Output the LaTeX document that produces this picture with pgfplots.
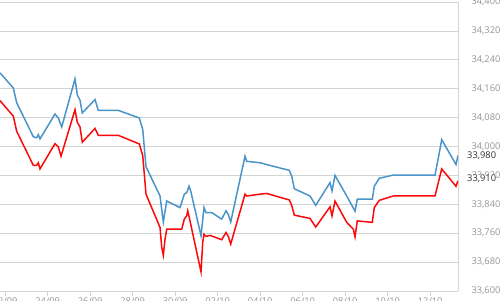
\documentclass[border=0pt]{standalone}
\usepackage{pgfplots}
\pgfplotsset{compat=1.18}
\usetikzlibrary{calc}
\usepackage{fontspec}
\setmainfont{Open Sans}
\definecolor{bluel}{RGB}{74,148,200}
\definecolor{redl}{RGB}{250,10,10}
\definecolor{gridc}{RGB}{212,212,212}
\definecolor{labc}{RGB}{150,150,150}
\definecolor{darklab}{RGB}{51,51,51}
\begin{document}
\begin{tikzpicture}
\begin{axis}[
  scale only axis, width=458pt, height=289pt,
  xmin=-0.245, xmax=21.308, ymin=33600, ymax=34400,
  axis x line*=bottom, axis y line*=right,
  axis line style={draw=gridc, line width=0.8pt},
  xtick={0,2,...,20},
  xticklabels={22/09,24/09,26/09,28/09,30/09,02/10,04/10,06/10,08/10,10/10,12/10},
  ytick={33600,33680,...,34400},
  scaled y ticks=false,
  ymajorgrids, grid style={draw=gridc, line width=0.8pt},
  major tick length=5pt,
  tick style={draw=gridc, line width=0.8pt},
  ytick style={draw=none},
  tick align=outside,
  /pgf/number format/.cd, 1000 sep={,}, assume math mode=true,
  /pgfplots/.cd,
  ticklabel style={font=\fontsize{9.3}{10}\selectfont, text=labc},
  xticklabel style={inner sep=0pt, yshift=-2pt},
  yticklabel style={anchor=west, xshift=5pt},
  clip mode=individual,
]
\coordinate (ll) at (axis cs:-0.245,33600);
\addplot[bluel, line width=1.5pt] table {
x y
-0.245 34204
0.381 34162
0.541 34121
1.322 34027
1.482 34024
1.558 34033
1.638 34021
2.344 34090
2.499 34079
2.659 34054
3.285 34187
3.393 34143
3.520 34128
3.628 34093
4.226 34130
4.381 34100
5.322 34100
6.311 34079
6.471 34047
6.626 33944
7.285 33863
7.440 33791
7.600 33849
8.226 33831
8.428 33868
8.541 33872
8.649 33890
8.729 33877
9.214 33753
9.355 33831
9.449 33817
9.718 33817
10.188 33799
10.391 33822
10.499 33812
10.612 33791
11.285 33973
11.365 33959
11.991 33955
12.306 33950
13.369 33934
13.482 33918
13.605 33883
14.344 33863
14.612 33837
15.285 33900
15.379 33877
15.520 33920
16.071 33863
16.462 33821
16.569 33854
17.275 33854
17.369 33890
17.605 33912
18.264 33921
20.226 33921
20.381 33968
20.541 34019
21.214 33950
21.308 33975
};
\addplot[redl, line width=1.5pt] table {
x y
-0.245 34127
0.381 34084
0.541 34042
1.322 33948
1.482 33948
1.558 33955
1.638 33938
2.344 34008
2.499 33999
2.626 33973
3.285 34102
3.393 34067
3.520 34054
3.628 34012
4.226 34050
4.381 34031
5.322 34031
6.311 34007
6.471 33975
6.626 33868
7.285 33776
7.365 33721
7.440 33699
7.520 33743
7.600 33771
8.306 33771
8.428 33799
8.541 33808
8.588 33822
8.664 33803
9.214 33653
9.294 33734
9.355 33757
9.449 33751
9.638 33754
10.188 33742
10.391 33762
10.499 33751
10.612 33730
11.285 33868
11.365 33863
11.991 33868
12.306 33870
13.369 33852
13.482 33837
13.605 33810
14.344 33801
14.612 33777
15.285 33833
15.379 33808
15.520 33849
16.071 33790
16.382 33771
16.462 33750
16.569 33794
17.275 33790
17.369 33831
17.605 33851
18.264 33863
20.226 33863
20.541 33938
21.214 33890
21.308 33905
};
\node[anchor=west, inner sep=0pt, xshift=9pt, fill=white, text=darklab, font=\fontsize{9.3}{10}\selectfont] at (axis cs:21.308,33975) {33,980};
\node[anchor=west, inner sep=0pt, xshift=9pt, fill=white, text=darklab, font=\fontsize{9.3}{10}\selectfont] at (axis cs:21.308,33910) {33,910};
\end{axis}
\pgfresetboundingbox
\useasboundingbox ($(ll)+(0pt,-9pt)$) rectangle ($(ll)+(500pt,291pt)$);
\end{tikzpicture}
\end{document}
